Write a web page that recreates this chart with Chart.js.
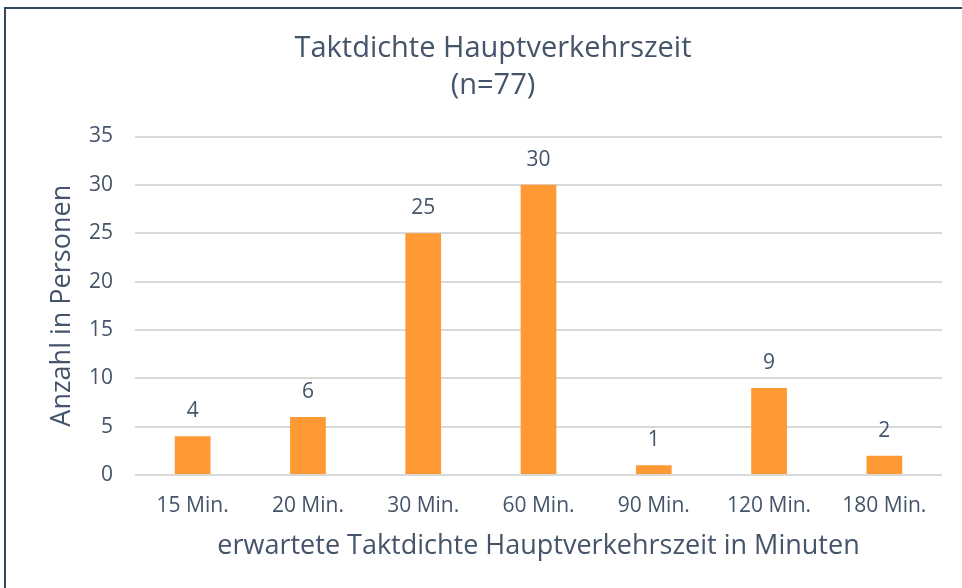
<!DOCTYPE html>
<html><head><meta charset="utf-8">
<script src="https://cdn.jsdelivr.net/npm/chart.js@4"></script>
<style>
html,body{margin:0;padding:0;background:#fff;width:962px;height:588px;overflow:hidden;}
#frame{position:absolute;left:4px;top:7px;width:1000px;height:1000px;border:2px solid #2f4a60;box-sizing:border-box;}
#wrap{position:absolute;left:0;top:0;width:962px;height:588px;}
</style></head>
<body>
<div id="frame"></div>
<div id="wrap"><canvas id="c" width="962" height="588"></canvas></div>
<script>
const categories = ["15 Min.", "20 Min.", "30 Min.", "60 Min.", "90 Min.", "120 Min.", "180 Min."];
const values = [4, 6, 25, 30, 1, 9, 2];
const yTicks = [0, 5, 10, 15, 20, 25, 30, 35];
const titleLines = ["Taktdichte Hauptverkehrszeit", "(n=77)"];
const xTitle = "erwartete Taktdichte Hauptverkehrszeit in Minuten";
const yTitle = "Anzahl in Personen";

const TXT = '#44546A';
const FONT = "'Open Sans', Lato, sans-serif";

const labelPlugin = {
  id: 'vals',
  afterDatasetsDraw(chart) {
    const ctx = chart.ctx;
    const meta = chart.getDatasetMeta(0);
    ctx.save();
    ctx.font = "21px " + FONT;
    ctx.fillStyle = TXT;
    ctx.textAlign = 'center';
    ctx.textBaseline = 'middle';
    meta.data.forEach((bar, i) => {
      ctx.fillText(String(values[i]), bar.x, bar.y - 25);
    });
    ctx.restore();
  }
};

new Chart(document.getElementById('c'), {
  type: 'bar',
  data: {
    labels: categories,
    datasets: [{
      data: values,
      backgroundColor: '#FF9933',
      borderWidth: 0,
      barPercentage: 0.31,
      categoryPercentage: 1.0
    }]
  },
  options: {
    responsive: false,
    animation: false,
    layout: { padding: { left: 44, right: 20, top: 31, bottom: 25 } },
    plugins: {
      legend: { display: false },
      tooltip: { enabled: false },
      title: {
        display: true,
        text: titleLines,
        color: TXT,
        font: { family: FONT, size: 29, weight: 'normal', lineHeight: 1.25 },
        padding: { top: 0, bottom: 33 }
      }
    },
    scales: {
      x: {
        afterFit(scale) { scale.height = 88; },
        grid: { display: false, drawTicks: false },
        border: { display: false },
        ticks: { color: TXT, font: { family: FONT, size: 21 }, padding: 18 },
        title: { display: true, text: xTitle, color: TXT, font: { family: FONT, size: 27 }, padding: { top: 0, bottom: 0 } }
      },
      y: {
        min: 0, max: 35,
        afterBuildTicks(axis) { axis.ticks = yTicks.map(v => ({ value: v })); },
        afterFit(scale) { scale.width = 91; },
        grid: { color: '#d9d9d9', lineWidth: 2, drawTicks: false },
        border: { display: false },
        ticks: { color: TXT, font: { family: FONT, size: 21 }, padding: 22 },
        title: { display: true, text: yTitle, color: TXT, font: { family: FONT, size: 27 }, padding: { top: 2, bottom: 0 } }
      }
    }
  },
  plugins: [labelPlugin]
});
</script>
</body></html>
